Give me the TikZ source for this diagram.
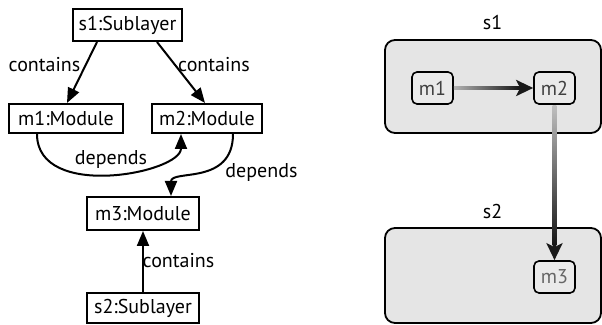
\documentclass[tikz,border=0pt]{standalone}
\usepackage{fontspec}
\setmainfont{PT Sans}
\usetikzlibrary{arrows.meta,calc}
\definecolor{boxgray}{HTML}{E5E5E5}
\definecolor{smallgray}{HTML}{EAEAEA}
\tikzset{
  obj/.style={draw=black, line width=1pt, fill=white, inner sep=0pt, minimum height=15pt},
  lbl/.style={inner sep=0pt},
  rel/.style={line width=1pt, -{Triangle[length=7.5pt,width=6pt]}},
  layer/.style={draw=black, line width=0.9pt, fill=boxgray, rounded corners=5pt},
  modbox/.style={draw=black, line width=0.8pt, fill=smallgray, rounded corners=2.5pt,
    minimum width=20.5pt, minimum height=16pt, inner sep=0pt, text=black!75},
  tipR/.style={-{Stealth[length=8.5pt,width=8pt,inset=2pt]}},
}
\begin{document}
\begin{tikzpicture}[x=0.5pt,y=-0.5pt,font=\fontsize{10}{12}\selectfont]
\useasboundingbox (0,0) rectangle (602,325);
% ---------- left diagram ----------
\node[obj, minimum width=54.5pt, minimum height=16pt] (s1) at (127.5,25) {s1:Sublayer};
\node[obj, minimum width=57pt, minimum height=14.5pt] (m1) at (66,118.5) {m1:Module};
\node[obj, minimum width=55pt, minimum height=14.5pt] (m2) at (207,118.5) {m2:Module};
\node[obj, minimum width=56pt, minimum height=16.5pt] (m3) at (143,213.5) {m3:Module};
\node[obj, minimum width=56pt, minimum height=15pt] (s2) at (143,308) {s2:Sublayer};

\draw[rel] ($(s1.south)+(-30.5,0)$) -- ($(m1.north)+(1,0)$);
\draw[rel] ($(s1.south)+(29.5,0)$) -- ($(m2.north)+(-2,0)$);
\draw[rel] ($(m1.south)+(-29,0)$) .. controls +(0,67) and +(0,39) .. ($(m2.south)+(-26,0)$);
\draw[rel] ($(m2.south)+(26,0)$) .. controls +(0,52) and +(0,-27) .. ($(m3.north)+(28,0)$);
\draw[rel] (s2.north) -- (m3.south);

\node[lbl] (c1) at (44.5,65) {contains};
\node[lbl] (c2) at (214,65) {contains};
\node[lbl] (d1) at (111,160) {depends};
\node[lbl] (d2) at (261.5,173) {depends};
\node[lbl] (c3) at (178.5,261) {contains};

% ---------- right diagram ----------
\node[lbl] (ls1) at (492.5,23) {s1};
\node[lbl] (ls2) at (492.5,212) {s2};
\path[layer] (385,40) rectangle (601,133);
\path[layer] (385,228) rectangle (601,323);
\node[modbox] (rm1) at (432.5,88) {m1};
\node[modbox] (rm2) at (554.5,88) {m2};
\node[modbox, text=black!60] (rm3) at (554.5,277) {m3};

% m1 -> m2 gradient arrow
\draw[line width=1.8pt, draw=black!90, tipR] (rm1.east) -- (rm2.west);
\shade[left color=black!30, right color=black!90]
  ($(rm1.east)+(0,-1.8)$) rectangle ($(rm2.west)+(-15,1.8)$);
% m2 -> m3 gradient arrow
\draw[line width=1.9pt, draw=black!90, tipR] (rm2.south) -- (rm3.north);
\shade[top color=black!25, bottom color=black!92]
  ($(rm2.south)+(-1.9,0.4)$) rectangle ($(rm3.north)+(1.9,-15)$);
\end{tikzpicture}
\end{document}
